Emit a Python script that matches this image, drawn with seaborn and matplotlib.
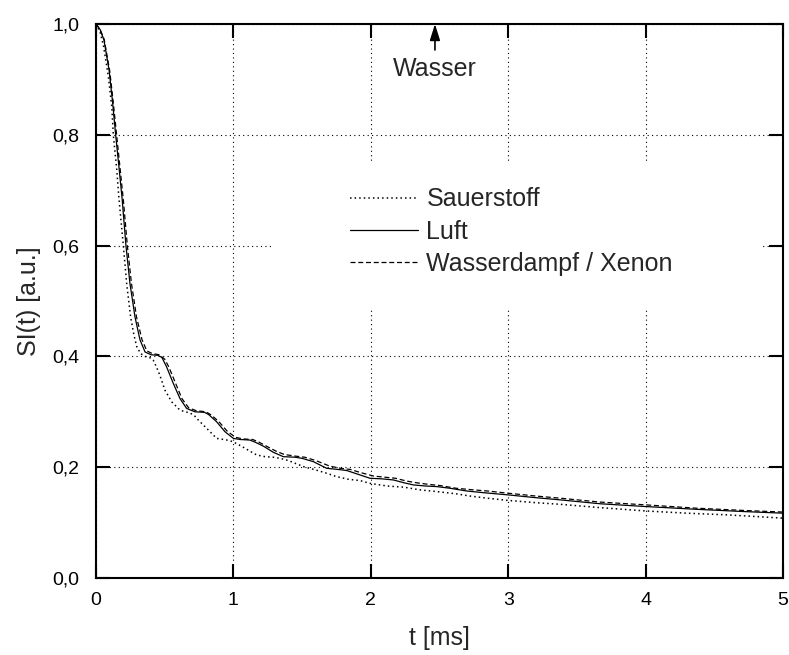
import numpy as np
import pandas as pd
import matplotlib
matplotlib.use("Agg")
import matplotlib.pyplot as plt
import seaborn as sns
from matplotlib.patches import Rectangle
from matplotlib.ticker import FuncFormatter, MultipleLocator

# ---------------- data ----------------
t_sauerstoff = [0.0, 0.03, 0.055, 0.09, 0.115, 0.126, 0.15, 0.167, 0.199, 0.223, 0.252, 0.275,
                0.296, 0.325, 0.357, 0.39, 0.417, 0.44, 0.466, 0.502, 0.551, 0.611, 0.65, 0.684,
                0.72, 0.745, 0.806, 0.878, 0.93, 0.975, 1.02, 1.072, 1.12, 1.17, 1.23, 1.29,
                1.34, 1.40, 1.51, 1.60, 1.68, 1.75, 1.84, 1.92, 1.99, 2.12, 2.24, 2.36, 2.48,
                2.62, 2.72, 2.85, 3.0, 3.2, 3.38, 3.67, 4.0, 4.3, 4.59, 4.8, 5.0]
si_sauerstoff = [1.0, 0.985, 0.96, 0.905, 0.85, 0.80, 0.74, 0.685, 0.60, 0.532, 0.471, 0.44,
                 0.418, 0.405, 0.400, 0.398, 0.393, 0.381, 0.365, 0.339, 0.318, 0.303, 0.300, 0.298,
                 0.292, 0.285, 0.270, 0.252, 0.250, 0.248, 0.243, 0.236, 0.229, 0.222, 0.219, 0.218,
                 0.216, 0.212, 0.201, 0.195, 0.189, 0.183, 0.178, 0.176, 0.171, 0.166, 0.164, 0.159, 0.156,
                 0.152, 0.148, 0.144, 0.140, 0.136, 0.133, 0.127, 0.121, 0.117, 0.114, 0.111, 0.108]

t_luft = [0.0, 0.03, 0.058, 0.095, 0.119, 0.143, 0.167, 0.19, 0.218, 0.247, 0.284, 0.32,
          0.357, 0.40, 0.45, 0.48, 0.514, 0.563, 0.611, 0.66, 0.72, 0.79, 0.82, 0.878,
          0.939, 1.0, 1.05, 1.12, 1.16, 1.218, 1.29, 1.363, 1.45, 1.50, 1.582, 1.679,
          1.76, 1.825, 1.91, 1.994, 2.08, 2.164, 2.24, 2.31, 2.40, 2.48, 2.576, 2.70,
          2.82, 3.0, 3.2, 3.38, 3.67, 4.0, 4.37, 4.71, 5.0]
si_luft = [1.0, 0.99, 0.971, 0.917, 0.863, 0.80, 0.742, 0.685, 0.60, 0.532, 0.471, 0.43,
           0.408, 0.403, 0.402, 0.398, 0.381, 0.351, 0.324, 0.306, 0.300, 0.299, 0.295, 0.282,
           0.264, 0.252, 0.250, 0.249, 0.245, 0.238, 0.227, 0.219, 0.218, 0.216, 0.210, 0.198,
           0.196, 0.194, 0.187, 0.180, 0.179, 0.177, 0.172, 0.168, 0.166, 0.165, 0.162, 0.157,
           0.154, 0.150, 0.145, 0.141, 0.134, 0.129, 0.124, 0.120, 0.117]

t_wasserdampf = [0.0, 0.03, 0.06, 0.10, 0.125, 0.15, 0.175, 0.20, 0.228, 0.258, 0.295, 0.335,
                 0.37, 0.41, 0.46, 0.50, 0.53, 0.58, 0.625, 0.675, 0.73, 0.80, 0.84, 0.895,
                 0.955, 1.015, 1.07, 1.14, 1.18, 1.24, 1.31, 1.37, 1.45, 1.52, 1.60, 1.70,
                 1.78, 1.85, 1.93, 2.02, 2.10, 2.18, 2.26, 2.33, 2.42, 2.50, 2.62, 2.75,
                 2.85, 3.0, 3.2, 3.38, 3.67, 4.0, 4.37, 4.71, 5.0]
si_wasserdampf = [1.0, 0.99, 0.972, 0.915, 0.86, 0.80, 0.74, 0.68, 0.60, 0.532, 0.471, 0.43,
                  0.41, 0.405, 0.403, 0.395, 0.381, 0.351, 0.324, 0.307, 0.302, 0.300, 0.294, 0.282,
                  0.265, 0.254, 0.251, 0.250, 0.246, 0.238, 0.229, 0.223, 0.220, 0.218, 0.212, 0.202,
                  0.198, 0.196, 0.190, 0.184, 0.182, 0.180, 0.175, 0.172, 0.169, 0.167, 0.162, 0.159,
                  0.157, 0.153, 0.148, 0.144, 0.137, 0.132, 0.126, 0.122, 0.119]

labels = ["Sauerstoff", "Luft", "Wasserdampf / Xenon"]
x_ticks = [0, 1, 2, 3, 4, 5]
y_ticks = [0.0, 0.2, 0.4, 0.6, 0.8, 1.0]
annotation_text = "Wasser"
annotation_x = 2.467

# ---------------- style ----------------
sns.set_style("ticks")
plt.rcParams["font.family"] = ["Liberation Sans", "DejaVu Sans"]

fig = plt.figure(figsize=(7.89, 6.55), dpi=100)
ax = fig.add_axes([0.12167, 0.11756, 0.87072, 0.84580])

series = [
    (t_sauerstoff, si_sauerstoff, labels[0], (0, (1, 2)), 1.1),
    (t_luft, si_luft, labels[1], "-", 0.9),
    (t_wasserdampf, si_wasserdampf, labels[2], (0, (4, 2.2)), 0.9),
]
for tx, sy, lab, ls, lw in series:
    sns.lineplot(x=tx, y=sy, ax=ax, color="black", linestyle=ls, linewidth=lw,
                 label=lab, sort=False, zorder=3)

ax.set_xlim(0, 5)
ax.set_ylim(0, 1.0)
ax.xaxis.set_major_locator(MultipleLocator(1))
ax.set_xticks(x_ticks)
ax.set_yticks(y_ticks)
ax.yaxis.set_major_formatter(FuncFormatter(lambda v, p: f"{v:.1f}".replace(".", ",")))
ax.xaxis.set_major_formatter(FuncFormatter(lambda v, p: f"{v:.0f}"))

ax.set_axisbelow(True)
ax.grid(True, color="black", linestyle=(0, (1, 3)), linewidth=0.8)

for sp in ax.spines.values():
    sp.set_linewidth(1.5)
    sp.set_color("black")
ax.tick_params(direction="in", length=10, width=1.5, top=True, right=True,
               labelsize=14, colors="black")
ax.tick_params(axis="y", pad=12)
ax.tick_params(axis="x", pad=10)

# white area behind the legend (hides the grid there)
ax.add_patch(Rectangle((0.256, 0.484), 0.71, 0.269, transform=ax.transAxes,
                       facecolor="white", edgecolor="none", zorder=1))

leg = ax.legend(loc="upper left", bbox_to_anchor=(0.37, 0.705), frameon=False,
                fontsize=18, handlelength=2.7, handletextpad=0.35, labelspacing=0.33,
                borderpad=0, borderaxespad=0)

ax.annotate(annotation_text, xy=(annotation_x, 1.0), xytext=(annotation_x, 0.918),
            ha="center", va="center", fontsize=18, annotation_clip=False,
            arrowprops=dict(arrowstyle="-|>,head_length=0.7,head_width=0.22",
                            color="black", lw=1.2, shrinkA=3, shrinkB=0,
                            mutation_scale=14))

ax.set_xlabel("t [ms]", fontsize=18, labelpad=12)
ax.set_ylabel("SI(t) [a.u.]", fontsize=18, labelpad=8)

fig.savefig("out.png", dpi=100)
